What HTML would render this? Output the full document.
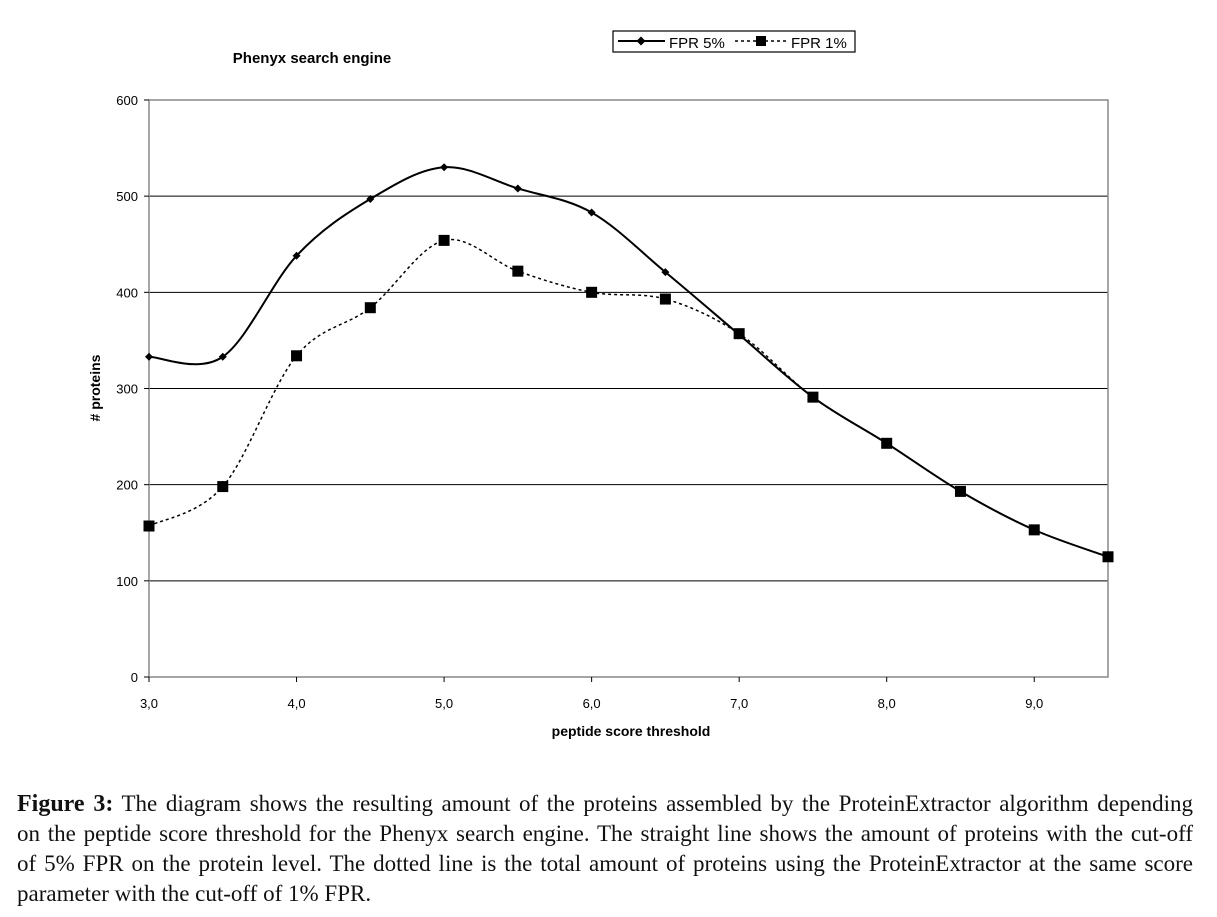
<!DOCTYPE html>
<html><head><meta charset="utf-8"><style>
body{margin:0;background:#fff;width:1217px;height:917px;overflow:hidden}
svg text{font-family:"Liberation Sans",sans-serif}
.cap{position:absolute;left:17px;top:789px;width:1176px;font-family:"Liberation Serif",serif;font-size:23px;line-height:30px;color:#111}
.cap div{text-align:justify;text-align-last:justify}
.cap div.last{text-align-last:left}
</style></head><body>
<svg width="1217" height="780" style="position:absolute;left:0;top:0">
<text x="312" y="63" font-size="15" font-weight="bold" text-anchor="middle">Phenyx search engine</text>
<g id="grid"></g>
<rect x="149" y="100" width="959" height="577" fill="none" stroke="#888" stroke-width="1.5"/>
<g id="axes"></g>
<path id="l1" fill="none" stroke="#000" stroke-width="1.5" stroke-dasharray="3,3"/>
<path id="l5" fill="none" stroke="#000" stroke-width="2"/>
<g id="marks"></g>
<text x="631" y="736" font-size="14" font-weight="bold" text-anchor="middle">peptide score threshold</text>
<text transform="translate(100,388) rotate(-90)" font-size="14" font-weight="bold" text-anchor="middle"># proteins</text>
<g>
<rect x="613" y="31" width="242" height="21" fill="#fff" stroke="#000" stroke-width="1.2"/>
<line x1="618" y1="41" x2="665" y2="41" stroke="#000" stroke-width="2"/>
<path d="M641 36.5L645.5 41L641 45.5L636.5 41Z" fill="#000"/>
<text x="669" y="48" font-size="15">FPR 5%</text>
<line x1="735" y1="41" x2="788" y2="41" stroke="#000" stroke-width="1.5" stroke-dasharray="3,3"/>
<rect x="756" y="36" width="10" height="10" fill="#000"/>
<text x="791" y="48" font-size="15">FPR 1%</text>
</g>
</svg>
<div class="cap">
<div><b style="font-size:24px">Figure 3:</b> The diagram shows the resulting amount of the proteins assembled by the ProteinExtractor algorithm depending</div>
<div>on the peptide score threshold for the Phenyx search engine. The straight line shows the amount of proteins with the cut-off</div>
<div>of 5% FPR on the protein level. The dotted line is the total amount of proteins using the ProteinExtractor at the same score</div>
<div class="last">parameter with the cut-off of 1% FPR.</div>
</div>
<script>
const xs=[3.0,3.5,4.0,4.5,5.0,5.5,6.0,6.5,7.0,7.5,8.0,8.5,9.0,9.5];
const fpr5=[333,333,438,497,530,508,483,421,356,291,243,193,153,125];
const fpr1=[157,198,334,384,454,422,400,393,357,291,243,193,153,125];
const yTicks=[0,100,200,300,400,500,600];
const xTicks=["3,0","4,0","5,0","6,0","7,0","8,0","9,0"];
const xTickVals=[3,4,5,6,7,8,9];
const X=v=>149+(v-3)*147.54, Y=v=>677-v*0.9617;
const NS="http://www.w3.org/2000/svg";
function mk(t,a,p){const e=document.createElementNS(NS,t);for(const k in a)e.setAttribute(k,a[k]);p.appendChild(e);return e;}
const grid=document.getElementById('grid'),axes=document.getElementById('axes'),marks=document.getElementById('marks');
yTicks.forEach(v=>{
 if(v>0&&v<600){const l=mk('line',{x1:149,x2:1108,y1:Y(v),y2:Y(v),stroke:'#000','stroke-width':1},grid);
 
 }
 mk('line',{x1:144,x2:149,y1:Y(v),y2:Y(v),stroke:'#000'},axes);
 const t=mk('text',{x:138,y:Y(v)+5,'font-size':13,'text-anchor':'end'},axes);t.textContent=v;
 
 
});
xTickVals.forEach((v,i)=>{
 mk('line',{x1:X(v),x2:X(v),y1:677,y2:682,stroke:'#000'},axes);
 const t=mk('text',{x:X(v),y:708,'font-size':13,'text-anchor':'middle'},axes);t.textContent=xTicks[i];
 
 
});
function smooth(ys){const p=xs.map((x,i)=>[X(x),Y(ys[i])]);let d=`M${p[0][0]},${p[0][1]}`;
 for(let i=0;i<p.length-1;i++){const p0=p[i-1]||p[i],p1=p[i],p2=p[i+1],p3=p[i+2]||p2,k=1/6;
 d+=`C${p1[0]+(p2[0]-p0[0])*k},${p1[1]+(p2[1]-p0[1])*k} ${p2[0]-(p3[0]-p1[0])*k},${p2[1]-(p3[1]-p1[1])*k} ${p2[0]},${p2[1]}`;}return d;}
document.getElementById('l5').setAttribute('d',smooth(fpr5));
document.getElementById('l1').setAttribute('d',smooth(fpr1));
xs.forEach((x,i)=>{
 const r=mk('rect',{x:X(x)-5.5,y:Y(fpr1[i])-5.5,width:11,height:11,fill:'#000'},marks);
 
 
 const cx=X(x),cy=Y(fpr5[i]);
 const d=mk('path',{d:`M${cx} ${cy-4}L${cx+4} ${cy}L${cx} ${cy+4}L${cx-4} ${cy}Z`,fill:'#000'},marks);
 
 
});
</script>
</body></html>
